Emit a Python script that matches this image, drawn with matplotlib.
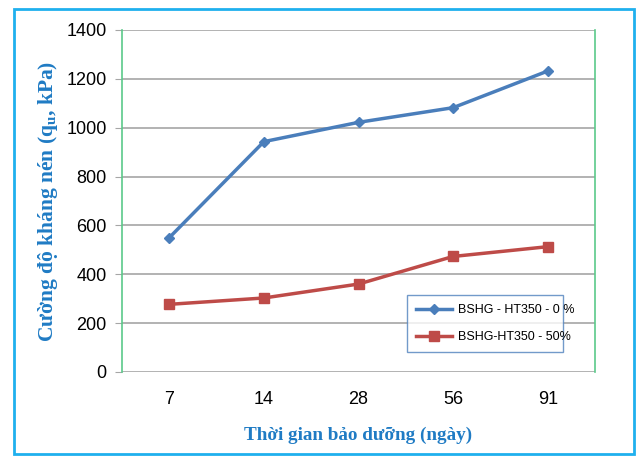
"""Compressive strength vs curing time for two mixes."""
import matplotlib
matplotlib.use("Agg")
import matplotlib.pyplot as plt
from matplotlib.patches import Rectangle

days = ["7", "14", "28", "56", "91"]
qu_0 = [550, 943, 1022, 1082, 1232]
qu_50 = [277, 303, 360, 473, 513]
labels = ["BSHG - HT350 - 0 %", "BSHG-HT350 - 50%"]

BLUE = "#4A7EBB"
RED = "#BE4B48"
TITLE_BLUE = "#1F7BC4"
GREEN = "#5BC98A"

plt.rcParams["font.family"] = ["Liberation Sans", "DejaVu Sans"]
plt.rcParams["mathtext.fontset"] = "custom"
plt.rcParams["mathtext.rm"] = "Liberation Serif:bold"

fig = plt.figure(figsize=(6.38, 4.57), dpi=100)
ax = fig.add_axes([122 / 638, 1 - 372 / 457, 473 / 638, 342 / 457])

x = range(len(days))
ax.plot(x, qu_0, color=BLUE, lw=2.5, marker="D", ms=5.5, label=labels[0])
ax.plot(x, qu_50, color=RED, lw=2.5, marker="s", ms=7, label=labels[1])

ax.set_xlim(-0.5, len(days) - 0.5)
ax.set_ylim(0, 1400)
ax.set_yticks(range(0, 1401, 200))
ax.set_xticks(list(x))
ax.set_xticklabels(days)
ax.grid(axis="y", color="#A6A6A6", lw=1.2)
ax.set_axisbelow(True)
ax.tick_params(axis="y", length=5, color="#A6A6A6", labelsize=13, pad=6)
ax.tick_params(axis="x", length=0, labelsize=13, pad=14)

for side in ("left", "right"):
    ax.spines[side].set_color(GREEN)
    ax.spines[side].set_linewidth(1.2)
for side in ("top", "bottom"):
    ax.spines[side].set_visible(False)

lab_font = dict(family=["Liberation Serif", "DejaVu Serif"], weight="bold",
                color=TITLE_BLUE)
fig.text(48 / 638, 1 - 201 / 457, r"Cường độ kháng nén (q$_\mathrm{u}$, kPa)",
         rotation=90, ha="center", va="center", size=15.5, **lab_font)
fig.text(358 / 638, 1 - 435 / 457, "Thời gian bảo dưỡng (ngày)",
         ha="center", va="center", size=13.8, **lab_font)

leg = ax.legend(loc="lower left", bbox_to_anchor=(279 / 473, 14 / 342, 168 / 473, 63 / 342),
                mode="expand", fontsize=9, frameon=True, fancybox=False,
                borderpad=0.7, labelspacing=1.2, handlelength=2.9, handletextpad=0.5)
leg.get_frame().set_edgecolor("#4F81BD")
leg.get_frame().set_linewidth(1.0)

fig.patches.append(Rectangle((14 / 638, 3 / 457), 620 / 638, 445 / 457,
                             transform=fig.transFigure, fill=False,
                             edgecolor="#1FB0EE", lw=2))

fig.savefig("out.png", dpi=100)
